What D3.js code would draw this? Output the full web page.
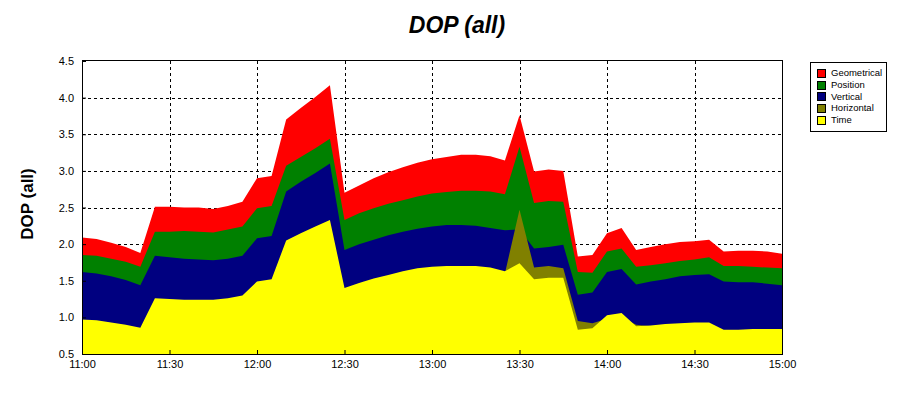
<!DOCTYPE html>
<html><head><meta charset="utf-8">
<script src="https://cdn.jsdelivr.net/npm/d3@7"></script>
<style>
body{margin:0;background:#fff;}
svg{display:block;}
text{font-family:"Liberation Sans",Arial,Helvetica,sans-serif;}
</style>
</head><body>
<svg id="chart" width="917" height="399"></svg>
<script>
// ---- data ----
const times = ["11:00","11:05","11:10","11:15","11:20","11:25","11:30","11:35","11:40","11:45","11:50","11:55",
  "12:00","12:05","12:10","12:15","12:20","12:25","12:30","12:35","12:40","12:45","12:50","12:55",
  "13:00","13:05","13:10","13:15","13:20","13:25","13:30","13:35","13:40","13:45","13:50","13:55",
  "14:00","14:05","14:10","14:15","14:20","14:25","14:30","14:35","14:40","14:45","14:50","14:55","15:00"];
const geometrical = [2.09,2.07,2.02,1.96,1.88,2.51,2.51,2.50,2.50,2.48,2.52,2.58,
  2.90,2.93,3.70,3.86,4.01,4.17,2.70,2.80,2.90,2.98,3.05,3.11,
  3.16,3.19,3.22,3.22,3.20,3.14,3.76,2.99,3.02,3.00,1.83,1.85,
  2.15,2.22,1.92,1.96,2.00,2.03,2.04,2.06,1.90,1.91,1.91,1.90,1.87];
const position = [1.85,1.84,1.80,1.76,1.69,2.17,2.17,2.18,2.17,2.16,2.20,2.24,
  2.49,2.52,3.07,3.19,3.31,3.44,2.33,2.42,2.49,2.55,2.60,2.65,
  2.69,2.71,2.73,2.73,2.72,2.68,3.33,2.56,2.59,2.58,1.62,1.61,
  1.90,1.94,1.69,1.71,1.74,1.77,1.79,1.82,1.70,1.70,1.69,1.68,1.67];
const vertical = [1.62,1.60,1.56,1.51,1.44,1.84,1.82,1.80,1.79,1.78,1.80,1.84,
  2.08,2.11,2.72,2.85,2.97,3.10,1.92,2.00,2.06,2.12,2.17,2.21,
  2.24,2.26,2.26,2.25,2.22,2.19,2.20,1.94,1.96,1.99,1.31,1.34,
  1.62,1.66,1.45,1.49,1.52,1.56,1.58,1.59,1.49,1.48,1.48,1.46,1.44];
const horizontal = [0.90,0.89,0.87,0.84,0.81,1.15,1.15,1.14,1.14,1.14,1.16,1.20,
  1.38,1.42,1.90,2.00,2.10,2.20,1.30,1.38,1.44,1.50,1.55,1.58,
  1.60,1.62,1.62,1.62,1.60,1.60,2.47,1.68,1.70,1.67,0.95,0.92,
  0.98,1.00,0.90,0.88,0.88,0.89,0.90,0.90,0.80,0.80,0.81,0.81,0.81];
const timeDop = [0.97,0.96,0.93,0.90,0.86,1.26,1.25,1.24,1.24,1.24,1.26,1.30,
  1.49,1.52,2.05,2.15,2.24,2.33,1.40,1.47,1.53,1.58,1.63,1.67,
  1.69,1.70,1.70,1.70,1.68,1.63,1.74,1.52,1.54,1.54,0.83,0.85,
  1.03,1.06,0.88,0.89,0.91,0.92,0.93,0.93,0.83,0.83,0.84,0.84,0.84];
const seriesNames = ["Geometrical","Position","Vertical","Horizontal","Time"];
const seriesColors = ["#ff0000","#008000","#000080","#808000","#ffff00"];
const yTickValues = [0.5,1.0,1.5,2.0,2.5,3.0,3.5,4.0,4.5];
const xTickLabels = ["11:00","11:30","12:00","12:30","13:00","13:30","14:00","14:30","15:00"];
const titleText = "DOP (all)";
const yLabelText = "DOP (all)";

// ---- chart ----
const svg = d3.select("#chart");
const parse = d3.timeParse("%H:%M");
const L = 82, R = 782, T = 61, B = 354;
const x = d3.scaleTime().domain([parse("11:00"), parse("15:00")]).range([L, R]);
const y = d3.scaleLinear().domain([0.5, 4.5]).range([B, T]);
const xTicks = xTickLabels.map(parse);
const seriesValues = [geometrical, position, vertical, horizontal, timeDop];
const tdates = times.map(parse);

// grid
const grid = svg.append("g").attr("stroke", "#000").attr("stroke-dasharray", "3,3")
  .attr("shape-rendering", "crispEdges");
grid.selectAll("line.v").data(xTicks.slice(1, -1)).join("line")
  .attr("x1", d => Math.round(x(d)) + 0.5).attr("x2", d => Math.round(x(d)) + 0.5)
  .attr("y1", T).attr("y2", B);
grid.selectAll("line.h").data(yTickValues.slice(1, -1)).join("line")
  .attr("y1", d => Math.round(y(d)) + 0.5).attr("y2", d => Math.round(y(d)) + 0.5)
  .attr("x1", L).attr("x2", R);

// areas (overlapping, drawn back to front)
const area = d3.area().x(d => x(d[0])).y0(y(0.5)).y1(d => y(d[1]));
seriesValues.forEach((vals, i) => {
  svg.append("path")
    .datum(tdates.map((t, j) => [t, vals[j]]))
    .attr("fill", seriesColors[i])
    .attr("d", area);
});

// axes
const xAxis = d3.axisBottom(x).tickValues(xTicks).tickFormat(d3.timeFormat("%H:%M"))
  .tickSizeInner(-4).tickSizeOuter(0).tickPadding(6);
const gx = svg.append("g").attr("transform", `translate(0,${B})`).call(xAxis);
const yAxis = d3.axisLeft(y).tickValues(yTickValues).tickFormat(d3.format(".1f"))
  .tickSizeInner(-4).tickSizeOuter(0).tickPadding(8);
const gy = svg.append("g").attr("transform", `translate(${L},0)`).call(yAxis);
[gx, gy].forEach(g => {
  g.selectAll("text").attr("font-size", 11).attr("fill", "#000")
    .style("font-family", '"Liberation Sans",Arial,sans-serif');
  g.selectAll("line").attr("stroke", "#000");
  g.select(".domain").remove();
});

// frame
svg.append("rect").attr("x", L + 0.5).attr("y", T - 0.5).attr("width", R - L).attr("height", B - T + 0.5)
  .attr("fill", "none").attr("stroke", "#000").attr("shape-rendering", "crispEdges");

// title
svg.append("text").attr("x", 457).attr("y", 33).attr("text-anchor", "middle")
  .attr("font-size", 23).attr("font-style", "italic").attr("font-weight", "bold").text(titleText);

// y label
svg.append("text").attr("transform", "translate(33,204) rotate(-90)").attr("text-anchor", "middle")
  .attr("font-size", 17).attr("font-weight", "bold").text(yLabelText);

// legend
const lg = svg.append("g");
lg.append("rect").attr("x", 810.5).attr("y", 62.5).attr("width", 76).attr("height", 69)
  .attr("fill", "#fff").attr("stroke", "#000").attr("shape-rendering", "crispEdges");
seriesNames.forEach((n, i) => {
  const cy = 73 + i * 11.65;
  lg.append("rect").attr("x", 817.5).attr("y", Math.round(cy - 4) + 0.5).attr("width", 8).attr("height", 8)
    .attr("fill", seriesColors[i]).attr("stroke", "#000").attr("shape-rendering", "crispEdges");
  lg.append("text").attr("x", 831).attr("y", cy).attr("dy", "0.35em")
    .attr("font-size", 9.5).text(n);
});
</script>
</body></html>
